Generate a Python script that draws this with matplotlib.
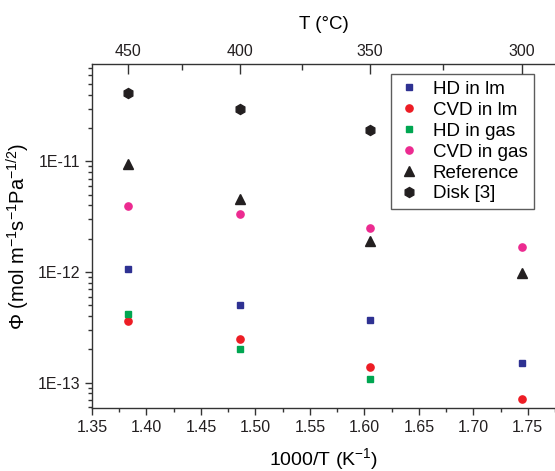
import numpy as np
import matplotlib.pyplot as plt
from matplotlib.ticker import FixedLocator, FuncFormatter, LogLocator, NullFormatter, MultipleLocator

plt.rcParams['font.family'] = ['Liberation Sans', 'DejaVu Sans']
plt.rcParams['mathtext.fontset'] = 'custom'
plt.rcParams['mathtext.rm'] = 'Liberation Sans'
plt.rcParams['mathtext.it'] = 'Liberation Sans:italic'

# ---- data ----
inv_T = [1.383, 1.486, 1.605, 1.745]          # 1000/T (K^-1) at 450, 400, 350, 300 °C

hd_lm = [1.07e-12, 5.05e-13, 3.72e-13, 1.52e-13]
cvd_lm = [3.6e-13, 2.47e-13, 1.39e-13, 7.1e-14]
hd_gas = [4.16e-13, 2.0e-13, 1.07e-13]
cvd_gas = [3.97e-12, 3.34e-12, 2.49e-12, 1.67e-12]
reference = [9.4e-12, 4.57e-12, 1.9e-12, 9.9e-13]
disk = [4.12e-11, 3.0e-11, 1.94e-11]

top_major = [450, 400, 350, 300]
top_minor = [425, 375, 325]
y_major = [1e-13, 1e-12, 1e-11]

fig = plt.figure(figsize=(5.55, 4.71), dpi=100)
ax = fig.add_axes([0.1658, 0.1338, 0.8342, 0.7303])

ax.plot(inv_T, hd_lm, 's', color='#2e3192', ms=4.6, ls='none', label='HD in lm')
ax.plot(inv_T, cvd_lm, 'o', color='#ed1c24', ms=5.2, ls='none', label='CVD in lm')
ax.plot(inv_T[:3], hd_gas, 's', color='#00a651', ms=4.6, ls='none', label='HD in gas')
ax.plot(inv_T, cvd_gas, 'o', color='#ec2a90', ms=5.2, ls='none', label='CVD in gas')
ax.plot(inv_T, reference, '^', color='#231f20', ms=7.5, ls='none', label='Reference')
ax.plot(inv_T[:3], disk, 'h', color='#231f20', ms=7.2, ls='none', label='Disk [3]')

ax.set_yscale('log')
ax.set_xlim(1.35, 1.775)
ax.set_ylim(5.9e-14, 7.6e-11)

ax.xaxis.set_major_locator(MultipleLocator(0.05))
ax.xaxis.set_minor_locator(MultipleLocator(0.025))
ax.xaxis.set_major_formatter(FuncFormatter(lambda v, p: f'{v:.2f}'))
ax.yaxis.set_major_locator(FixedLocator(y_major))
ax.yaxis.set_minor_locator(LogLocator(base=10, subs=np.arange(2, 10)))
ax.yaxis.set_minor_formatter(NullFormatter())
ax.yaxis.set_major_formatter(FuncFormatter(lambda v, p: f'1E{int(round(np.log10(v)))}'))

ax.spines['right'].set_visible(False)
for s in ['left', 'bottom', 'top']:
    ax.spines[s].set_linewidth(1.0)
    ax.spines[s].set_color('#333333')
ax.tick_params(axis='both', which='major', direction='out', length=5, width=1, labelsize=11.5, colors='#333333', labelcolor='#231f20')
ax.tick_params(axis='both', which='minor', direction='out', length=3, width=1, colors='#333333')
ax.tick_params(axis='x', top=False)

ax.set_xlabel('1000/T (K$^{-1}$)', fontsize=14, labelpad=8)
ax.set_ylabel(r'$\Phi$ (mol m$^{-1}$s$^{-1}$Pa$^{-1/2}$)', fontsize=14.5, labelpad=4)

# top axis in °C
sec = ax.secondary_xaxis('top', functions=(lambda x: 1000.0 / x - 273.15, lambda t: 1000.0 / (t + 273.15)))
sec.xaxis.set_major_locator(FixedLocator(top_major))
sec.xaxis.set_minor_locator(FixedLocator(top_minor))
sec.xaxis.set_major_formatter(FuncFormatter(lambda v, p: f'{v:.0f}'))
sec.tick_params(which='major', direction='in', length=7, width=1, labelsize=11.5, colors='#333333', labelcolor='#231f20')
sec.tick_params(which='minor', direction='in', length=4, width=1, colors='#333333')
sec.spines['top'].set_visible(False)
sec.set_xlabel('T (°C)', fontsize=13.5, labelpad=11)

leg = ax.legend(loc='upper right', bbox_to_anchor=(0.955, 0.97), fontsize=13.5, frameon=True, fancybox=False,
                handletextpad=0.6, borderpad=0.35, labelspacing=0.2, handlelength=1.3, borderaxespad=0)
leg.get_frame().set_edgecolor('#333333')
leg.get_frame().set_linewidth(1.0)

fig.savefig('out.png', dpi=100)
